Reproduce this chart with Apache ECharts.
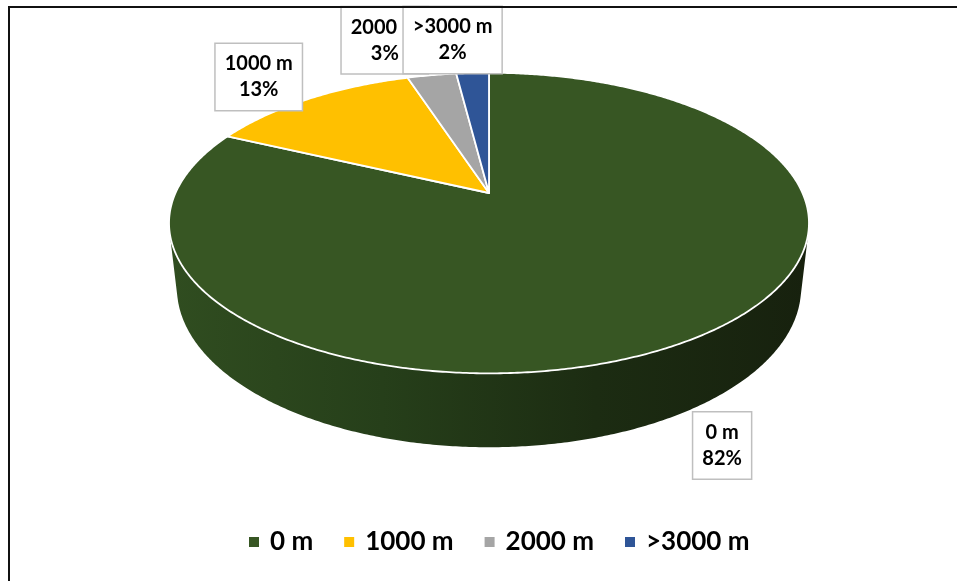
<!DOCTYPE html>
<html>
<head>
<meta charset="utf-8">
<script src="https://cdn.jsdelivr.net/npm/echarts@6/dist/echarts.min.js"></script>
<style>
  html, body { margin: 0; padding: 0; background: #fff; }
  #chart { width: 957px; height: 581px; }
</style>
</head>
<body>
<div id="chart"></div>
<script>
// Share of area by altitude band
const categories = ['0 m', '1000 m', '2000 m', '>3000 m'];
const shares = [82, 13, 3, 2];
const sliceColors = ['#375623', '#FFC000', '#A5A5A5', '#2F5597'];

// Perspective view of the tilted disc
const view = {
  cx: 489, cy: 193,          // screen position of the disc centre
  focal: 1392,               // projection scale
  dist: 4.44,                // camera distance (in disc radii)
  tilt: 27.4 * Math.PI / 180,
  depth: 0.2347              // disc thickness (in disc radii)
};
// label box offsets from the slice's outer rim midpoint
const labelShift = [[31, 106], [-50, -22], [-47, -35], [-20, -33]];
const sideStops = ['#304d20', '#263f1a', '#1c2c12', '#17210e'];

function project(theta, r, z) {
  const X = r * Math.sin(theta);
  const Y = -r * Math.cos(theta);
  const s = Math.sin(view.tilt), c = Math.cos(view.tilt);
  const d = view.dist - Y * c - z * s;
  const up = -Y * s + z * c;
  return [view.cx + view.focal * X / d, view.cy - view.focal * up / d];
}

const total = shares.reduce((a, b) => a + b, 0);
const starts = [];
let acc = 0;
shares.forEach(v => { starts.push(acc / total * Math.PI * 2); acc += v; });
const ends = shares.map((v, i) => starts[i] + v / total * Math.PI * 2);

// part of the rim that faces the viewer
const rimLo = Math.acos(-1 / (view.dist * Math.cos(view.tilt)));
const rimHi = Math.PI * 2 - rimLo;

function arc(a, b, z) {
  const pts = [];
  const n = Math.max(2, Math.ceil(Math.abs(b - a) / (0.5 * Math.PI / 180)));
  for (let k = 0; k <= n; k++) pts.push(project(a + (b - a) * k / n, 1, z));
  return pts;
}

function makeRender(i) {
  return function (params, api) {
    const children = [];
    const a = starts[i], b = ends[i];
    const sa = Math.max(a, rimLo), sb = Math.min(b, rimHi);
    if (sa < sb) {
      const top = arc(sa, sb, 0);
      const bottom = arc(sb, sa, -view.depth);
      children.push({
        type: 'polygon', z2: 1,
        shape: { points: top.concat(bottom) },
        style: {
          fill: {
            type: 'linear', x: 0, y: 0, x2: 1, y2: 0,
            colorStops: sideStops.map((c, k) => ({ offset: k / (sideStops.length - 1), color: c }))
          },
          stroke: null
        }
      });
    }
    const face = [project(0, 0, 0)].concat(arc(a, b, 0));
    children.push({
      type: 'polygon', z2: 2,
      shape: { points: face },
      style: { fill: api.visual('color'), stroke: '#ffffff', lineWidth: 1.8, lineJoin: 'round' }
    });
    const anchor = project((a + b) / 2, 1, 0);
    const pct = Math.round(api.value(0) / total * 100);
    children.push({
      type: 'text', z2: 20 + i,
      x: anchor[0] + labelShift[i][0],
      y: anchor[1] + labelShift[i][1],
      style: {
        text: categories[i] + '\n' + pct + '%',
        fill: '#000',
        font: 'bold 20px Lato',
        align: 'center',
        verticalAlign: 'middle',
        lineHeight: 26,
        backgroundColor: '#ffffff',
        borderColor: '#bfbfbf',
        borderWidth: 1.5,
        padding: [7, 9, 7, 9]
      }
    });
    return { type: 'group', children: children };
  };
}

const chart = echarts.init(document.getElementById('chart'), null, { renderer: 'canvas' });
chart.setOption({
  animation: false,
  backgroundColor: '#ffffff',
  graphic: [{
    type: 'rect', z: 100,
    shape: { x: 9, y: 7, width: 1000, height: 1000 },
    style: { fill: null, stroke: '#111111', lineWidth: 2 }
  }],
  legend: {
    data: categories,
    left: 244, top: 524,
    icon: 'rect', itemWidth: 10, itemHeight: 10, itemGap: 31,
    selectedMode: false,
    textStyle: { fontFamily: 'Lato', fontWeight: 'bold', fontSize: 26, color: '#000', padding: [0, 0, 0, 6] }
  },
  series: categories.map((name, i) => ({
    type: 'custom',
    name: name,
    coordinateSystem: 'none',
    silent: true,
    itemStyle: { color: sliceColors[i] },
    data: [shares[i]],
    renderItem: makeRender(i)
  }))
});
</script>
</body>
</html>
